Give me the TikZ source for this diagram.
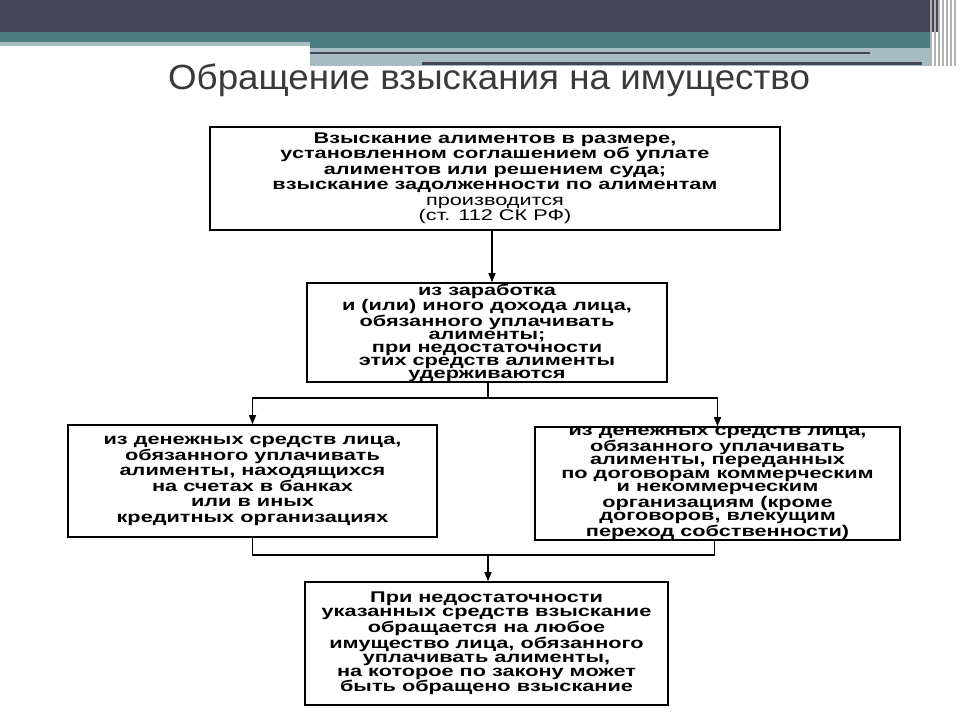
\documentclass[tikz,border=0pt]{standalone}
\usepackage{fontspec}
\setmainfont{Liberation Sans}
\newfontfamily\boxfont[FakeStretch=1.4]{Liberation Sans}
\newfontfamily\titlefont[FakeStretch=1.05]{Liberation Sans}
\usetikzlibrary{arrows.meta}
\definecolor{bardark}{HTML}{454657}
\definecolor{barteal}{HTML}{4A7C80}
\definecolor{barlight}{HTML}{A6BCC2}
\definecolor{titlegray}{HTML}{3A3A3A}
\tikzset{
  box/.style={draw, line width=1.6pt, align=center, inner sep=0pt,
    font=\boxfont\bfseries\fontsize{15.5}{#1}\selectfont},
  box/.default=15.5,
  link/.style={line width=1.2pt},
  arr/.style={link, -{Triangle[length=9pt,width=7pt]}}
}
\begin{document}
\begin{tikzpicture}[x=1pt,y=-1pt]
        \useasboundingbox (0,0) rectangle (960,720);

        % Header bars
        \fill[bardark] (0,0) rectangle (940,32);
        \fill[barteal] (0,32) rectangle (930,42);
        \fill[barlight] (0,42) rectangle (310,46);
        \fill[barteal] (310,42) rectangle (930,48);
        \fill[barlight] (310,48) rectangle (930,66);
        \fill[bardark] (310,52) rectangle (870,54);
        \fill[bardark] (422,62) rectangle (922,65);
        \foreach \x in {930,934,938,942,946,950,954}
            {
                \fill[gray!60] (\x,0) rectangle (\x+1.5,66);
            }

        % Title
        \node[text=titlegray, font=\titlefont\fontsize{35}{38}\selectfont] (title) at (489,80) {Обращение взыскания на имущество};

        % Boxes
        \node[box, minimum width=570, minimum height=103] (rule) at (495,178.5)
            {Взыскание алиментов в размере,\\ установленном соглашением об уплате\\ алиментов или решением суда;\\ взыскание задолженности по алиментам\\ \mdseries производится\\ \mdseries (ст. 112 СК РФ)};
        \node[box=13, minimum width=360, minimum height=99] (earn) at (487,332.5)
            {из заработка\\ и (или) иного дохода лица,\\ обязанного уплачивать\\ алименты;\\ при недостаточности\\ этих средств алименты\\ удерживаются};
        \node[box, minimum width=369, minimum height=112] (bank) at (252.5,481)
            {из денежных средств лица,\\ обязанного уплачивать\\ алименты, находящихся\\ на счетах в банках\\ или в иных\\ кредитных организациях};
        \node[box=13.5, minimum width=365, minimum height=113] (org) at (717.5,483.5)
            {из денежных средств лица,\\ обязанного уплачивать\\ алименты, переданных\\ по договорам коммерческим\\ и некоммерческим\\ организациям (кроме\\ договоров, влекущим\\ переход собственности)};
        \node[box=14, minimum width=363, minimum height=123] (prop) at (486.5,643.5)
            {При недостаточности\\ указанных средств взыскание\\ обращается на любое\\ имущество лица, обязанного\\ уплачивать алименты,\\ на которое по закону может\\ быть обращено взыскание};

        % Connectors
        \coordinate (split) at (488,398);
        \coordinate (join) at (488,555);
        \draw[arr] (rule.south) ++(-3,0) coordinate (r) -- (r |- earn.north);
        \draw[link] (earn.south) ++(1,0) coordinate (e) -- (e |- split);
        \draw[arr] (split) -| (bank.north);
        \draw[arr] (split) -| (org.north);
        \draw[link] (bank.south) |- (join);
        \draw[link] (org.south) ++(-3,0) coordinate (o) |- (join);
        \draw[arr] (join) -- (join |- prop.north);
    \end{tikzpicture}
\end{document}
